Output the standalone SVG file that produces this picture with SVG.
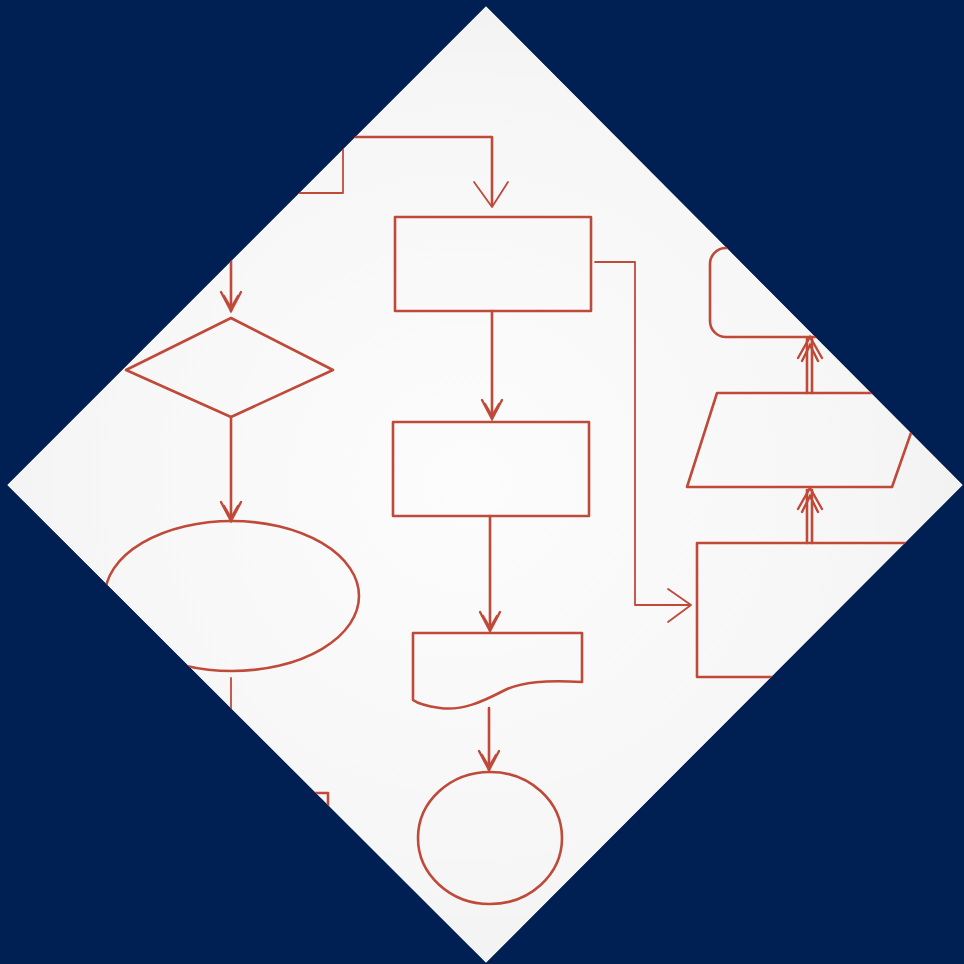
<svg xmlns="http://www.w3.org/2000/svg" width="964" height="964" viewBox="0 0 964 964">
<defs>
<clipPath id="dia"><polygon points="486,6 963,485 486,963 7,485"/></clipPath>
<radialGradient id="paper" cx="0.48" cy="0.5" r="0.6">
<stop offset="0" stop-color="#fcfcfc"/>
<stop offset="0.7" stop-color="#f6f6f6"/>
<stop offset="1" stop-color="#eeeeee"/>
</radialGradient>
</defs>
<style>
.s{fill:none;stroke:#c04a3a;stroke-width:2.6;stroke-linejoin:round;stroke-linecap:round}
.t{fill:none;stroke:#c04a3a;stroke-width:1.8;stroke-linejoin:round;stroke-linecap:round}
.h{fill:none;stroke:#c04a3a;stroke-width:2.4;stroke-linejoin:miter;stroke-linecap:round}
</style>
<rect width="964" height="964" fill="#001f52"/>
<g clip-path="url(#dia)">
<polygon points="486,6 963,485 486,963 7,485" fill="url(#paper)"/>
<g id="connectors">
<polyline class="t" points="296,193 343,193 343,148"/>
<polyline class="s" points="350,137 492,137 492,205"/>
<polyline class="t" points="474,182 492,207 508,182"/>
<line class="s" x1="492" y1="311" x2="492" y2="418"/>
<polyline class="h" points="482,400 492,419 502,400"/>
<polyline class="h" points="485,404 492,416 499,404"/>
<line class="s" x1="490" y1="516" x2="490" y2="630"/>
<polyline class="h" points="480,612 490,631 500,612"/>
<polyline class="h" points="483,616 490,628 497,616"/>
<line class="s" x1="489" y1="708" x2="489" y2="770"/>
<polyline class="h" points="479,751 489,770 499,751"/>
<polyline class="h" points="482,755 489,767 496,755"/>
<line class="s" x1="231" y1="250" x2="231" y2="311"/>
<polyline class="h" points="221,292 231,311 241,292"/>
<polyline class="h" points="224,296 231,308 238,296"/>
<line class="s" x1="231" y1="418" x2="231" y2="521"/>
<polyline class="h" points="221,502 231,521 241,502"/>
<polyline class="h" points="224,506 231,518 238,506"/>
<line class="t" x1="231" y1="678" x2="231" y2="730"/>
<polyline class="t" points="595,262 635,262 635,605 690,605"/>
<polyline class="t" points="668,589 691,605 668,622"/>
<line class="s" x1="807" y1="543" x2="807" y2="490"/>
<line class="s" x1="812" y1="543" x2="812" y2="490"/>
<polyline class="h" points="798,509 810,488 822,509"/>
<polyline class="h" points="802,512 810,496 818,512"/>
<line class="s" x1="807" y1="393" x2="807" y2="339"/>
<line class="s" x1="812" y1="393" x2="812" y2="339"/>
<polyline class="h" points="798,358 810,337 822,358"/>
<polyline class="h" points="802,361 810,345 818,361"/>
</g>
<g id="process-top"><rect class="s" x="395" y="217" width="196" height="94"/></g>
<g id="process-middle"><rect class="s" x="393" y="422" width="196" height="94"/></g>
<g id="document"><path class="s" d="M413,633 H582 V682 C545,680 522,682 505,690 C482,702 462,711 440,708 C426,706 417,703 413,700 Z"/></g>
<g id="terminal-circle"><ellipse class="s" cx="490" cy="838" rx="72" ry="66"/></g>
<g id="decision"><polygon class="s" points="231,318 333,370 231,417 126,370"/></g>
<g id="ellipse"><ellipse class="s" cx="232" cy="596" rx="127" ry="75"/></g>
<g id="bottom-left-box"><polyline class="s" points="300,793 328,793 328,830"/></g>
<g id="process-right"><rect class="s" x="697" y="543" width="280" height="134"/></g>
<g id="data"><polygon class="s" points="717,393 925,393 892,487 687,487"/></g>
<g id="rounded"><rect class="s" x="710" y="248" width="260" height="89" rx="16"/></g>
</g>
</svg>
